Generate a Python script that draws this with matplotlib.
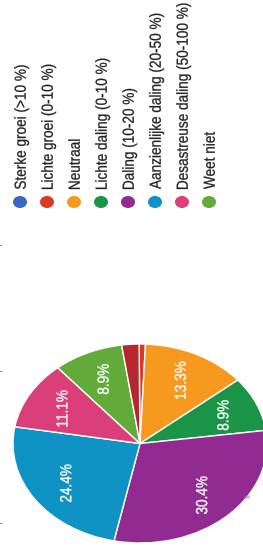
import matplotlib

matplotlib.use("Agg")
import matplotlib.pyplot as plt
from matplotlib.font_manager import FontProperties
from matplotlib.patches import Ellipse, PathPatch
from matplotlib.textpath import TextPath
from matplotlib.transforms import Affine2D

# legend categories (Google Forms order) and their shares in %
categories = [
    "Sterke groei (>10 %)",
    "Lichte groei (0-10 %)",
    "Neutraal",
    "Lichte daling (0-10 %)",
    "Daling (10-20 %)",
    "Aanzienlijke daling (20-50 %)",
    "Desastreuse daling (50-100 %)",
    "Weet niet",
]
shares = [0.0, 0.8, 13.3, 8.9, 30.4, 24.4, 11.1, 8.9]
colors = ["#3a66c4", "#d93a23", "#f7991f", "#1a9547", "#912a91",
          "#0f92c4", "#da3f79", "#62aa3a"]

# extra slice whose legend entry is not visible in the crop
extra_share = 2.2
extra_color = "#b3272d"

W, H = 263, 556
FP = FontProperties(family="Liberation Sans")
SIZE = 16        # em in px, across the (rotated) glyphs
SQUEEZE = 0.85   # the scan is squashed along the reading direction


def rot_text(ax, x, y, s, color, size=SIZE, center=False, stroke=0.2):
    """Text reading bottom-to-top, squashed like the reference scan."""
    tp = TextPath((0, 0), s, size=size, prop=FP)
    ext = tp.get_extents()
    du = -(ext.x0 + ext.x1) / 2 if center else -ext.x0
    tr = (Affine2D().translate(du, -0.36 * size)
          .scale(SQUEEZE, 1).rotate_deg(90).translate(x, y))
    ax.add_patch(PathPatch(tr.transform_path(tp), fc=color, ec=color, lw=stroke))


fig = plt.figure(figsize=(W / 100, H / 100), dpi=100)

# ── pie (squashed into an ellipse like the reference) ──
cx, cy, rx, ry = 140, 443.5, 127, 99.5
ax = fig.add_axes([(cx - rx) / W, (H - cy - ry) / H, 2 * rx / W, 2 * ry / H])

vals = [v for v in shares if v > 0] + [extra_share]
cols = [c for v, c in zip(shares, colors) if v > 0] + [extra_color]

wedges, _, autotexts = ax.pie(
    vals,
    colors=cols,
    startangle=90.4,
    counterclock=False,
    autopct=lambda p: f"{p:.1f}%" if p >= 5 else "",
    pctdistance=0.71,
    wedgeprops=dict(edgecolor="white", linewidth=1.0),
)
ax.set_xlim(-1, 1)
ax.set_ylim(-1, 1)
ax.set_aspect("auto")
ax.axis("off")

# overlay axes in pixel units (origin bottom-left)
lg = fig.add_axes([0, 0, 1, 1])
lg.set_xlim(0, W)
lg.set_ylim(0, H)
lg.axis("off")

# slice labels, placed where the pie put them
to_px = ax.transData + lg.transData.inverted()
for t in autotexts:
    s = t.get_text()
    t.set_visible(False)
    if s:
        px, py = to_px.transform(t.get_position())
        rot_text(lg, px, py, s, "white", center=True, stroke=0.25)

# ── rotated legend ──
for i, (name, col) in enumerate(zip(categories, colors)):
    x = 20 + 27 * i
    lg.add_patch(Ellipse((x, H - 202), 14, 12, color=col, lw=0))
    rot_text(lg, x, H - 189, name, "#222222")

# small cut-off fragments along the left edge
for y in (242, 368, 520):
    lg.text(-1, H - y, ".", fontsize=9, color="#333333", ha="left", va="center")
rot_text(lg, 247, H - 497, "8", "#888888", size=7, center=True, stroke=0.1)

fig.savefig("out.png", dpi=100)
